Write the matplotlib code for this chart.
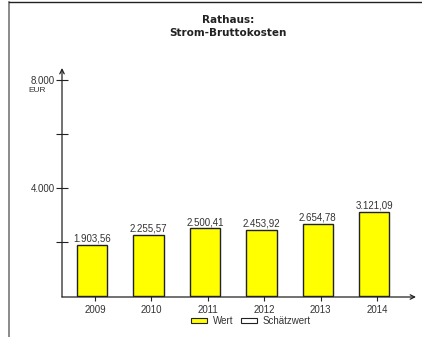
import matplotlib.pyplot as plt
from matplotlib.lines import Line2D
from matplotlib.patches import Patch

years = ['2009', '2010', '2011', '2012', '2013', '2014']
werte = [1903.56, 2255.57, 2500.41, 2453.92, 2654.78, 3121.09]
y_ticks = [2000, 4000, 6000, 8000]
y_labels = {4000: '4.000', 8000: '8.000'}

plt.rcParams['font.family'] = ['Liberation Sans', 'DejaVu Sans']

W, H = 422, 337
fig = plt.figure(figsize=(W / 100, H / 100), dpi=100)

# axes box in pixel coords
left, right, top, bottom = 62, 416, 68, 297
ax = fig.add_axes([left / W, 1 - bottom / H, (right - left) / W, (bottom - top) / H])

x = list(range(len(years)))
ax.bar([i - 0.05 for i in x], werte, width=0.54, color='#ffff00',
       edgecolor='#222222', linewidth=1.0, zorder=3)

def fmt(v):
    s = f'{v:,.2f}'
    return s.replace(',', 'X').replace('.', ',').replace('X', '.')

for i, v in zip(x, werte):
    ax.text(i - 0.05, v + 50, fmt(v), ha='center', va='bottom',
            fontsize=7, color='#333333')

ax.set_xlim(-0.585, 5.69)
ax.set_ylim(-40, 8440)

for s in ax.spines.values():
    s.set_visible(False)

ax.set_xticks(x)
ax.set_xticklabels(years)
ax.set_yticks(y_ticks)
ax.set_yticklabels([y_labels.get(t, '') for t in y_ticks])
ax.tick_params(axis='both', direction='inout', length=8, width=0.8,
               color='#222222', labelsize=7, labelcolor='#333333', pad=1)
ax.tick_params(axis='x', length=6, pad=3)

# axis lines with open arrow heads
ax.annotate('', xy=(0, 1.0), xytext=(0, 0), xycoords='axes fraction',
            arrowprops=dict(arrowstyle='->', color='#222222', lw=0.9,
                            shrinkA=0, shrinkB=0, mutation_scale=8))
ax.annotate('', xy=(1.0, 0), xytext=(0, 0), xycoords='axes fraction',
            arrowprops=dict(arrowstyle='->', color='#222222', lw=0.9,
                            shrinkA=0, shrinkB=0, mutation_scale=8))

fig.text(37 / W, 1 - 90 / H, 'EUR', ha='center', va='center',
         fontsize=6, color='#333333')

title_font = dict(fontsize=7.5, fontweight='bold', color='#222222',
                  family='DejaVu Sans', ha='center', va='center')
fig.text(228 / W, 1 - 20 / H, 'Rathaus:', **title_font)
fig.text(228 / W, 1 - 33 / H, 'Strom-Bruttokosten', **title_font)

# frame lines
fig.add_artist(Line2D([9 / W, 9 / W], [0, 1 - 2 / H], color='#777777', lw=1.2))
fig.add_artist(Line2D([9 / W, 1], [1 - 2 / H, 1 - 2 / H], color='#222222', lw=1.0))

handles = [Patch(facecolor='#ffff00', edgecolor='#222222', lw=0.8),
           Patch(facecolor='white', edgecolor='#222222', lw=0.8)]
fig.legend(handles, ['Wert', 'Schätzwert'], loc='center',
           bbox_to_anchor=(251 / W, 1 - 321 / H), ncol=2, frameon=False,
           fontsize=7, handlelength=1.6, handleheight=0.45, handletextpad=0.6,
           columnspacing=0.8, labelcolor='#333333')

fig.savefig('out.png', dpi=100)
